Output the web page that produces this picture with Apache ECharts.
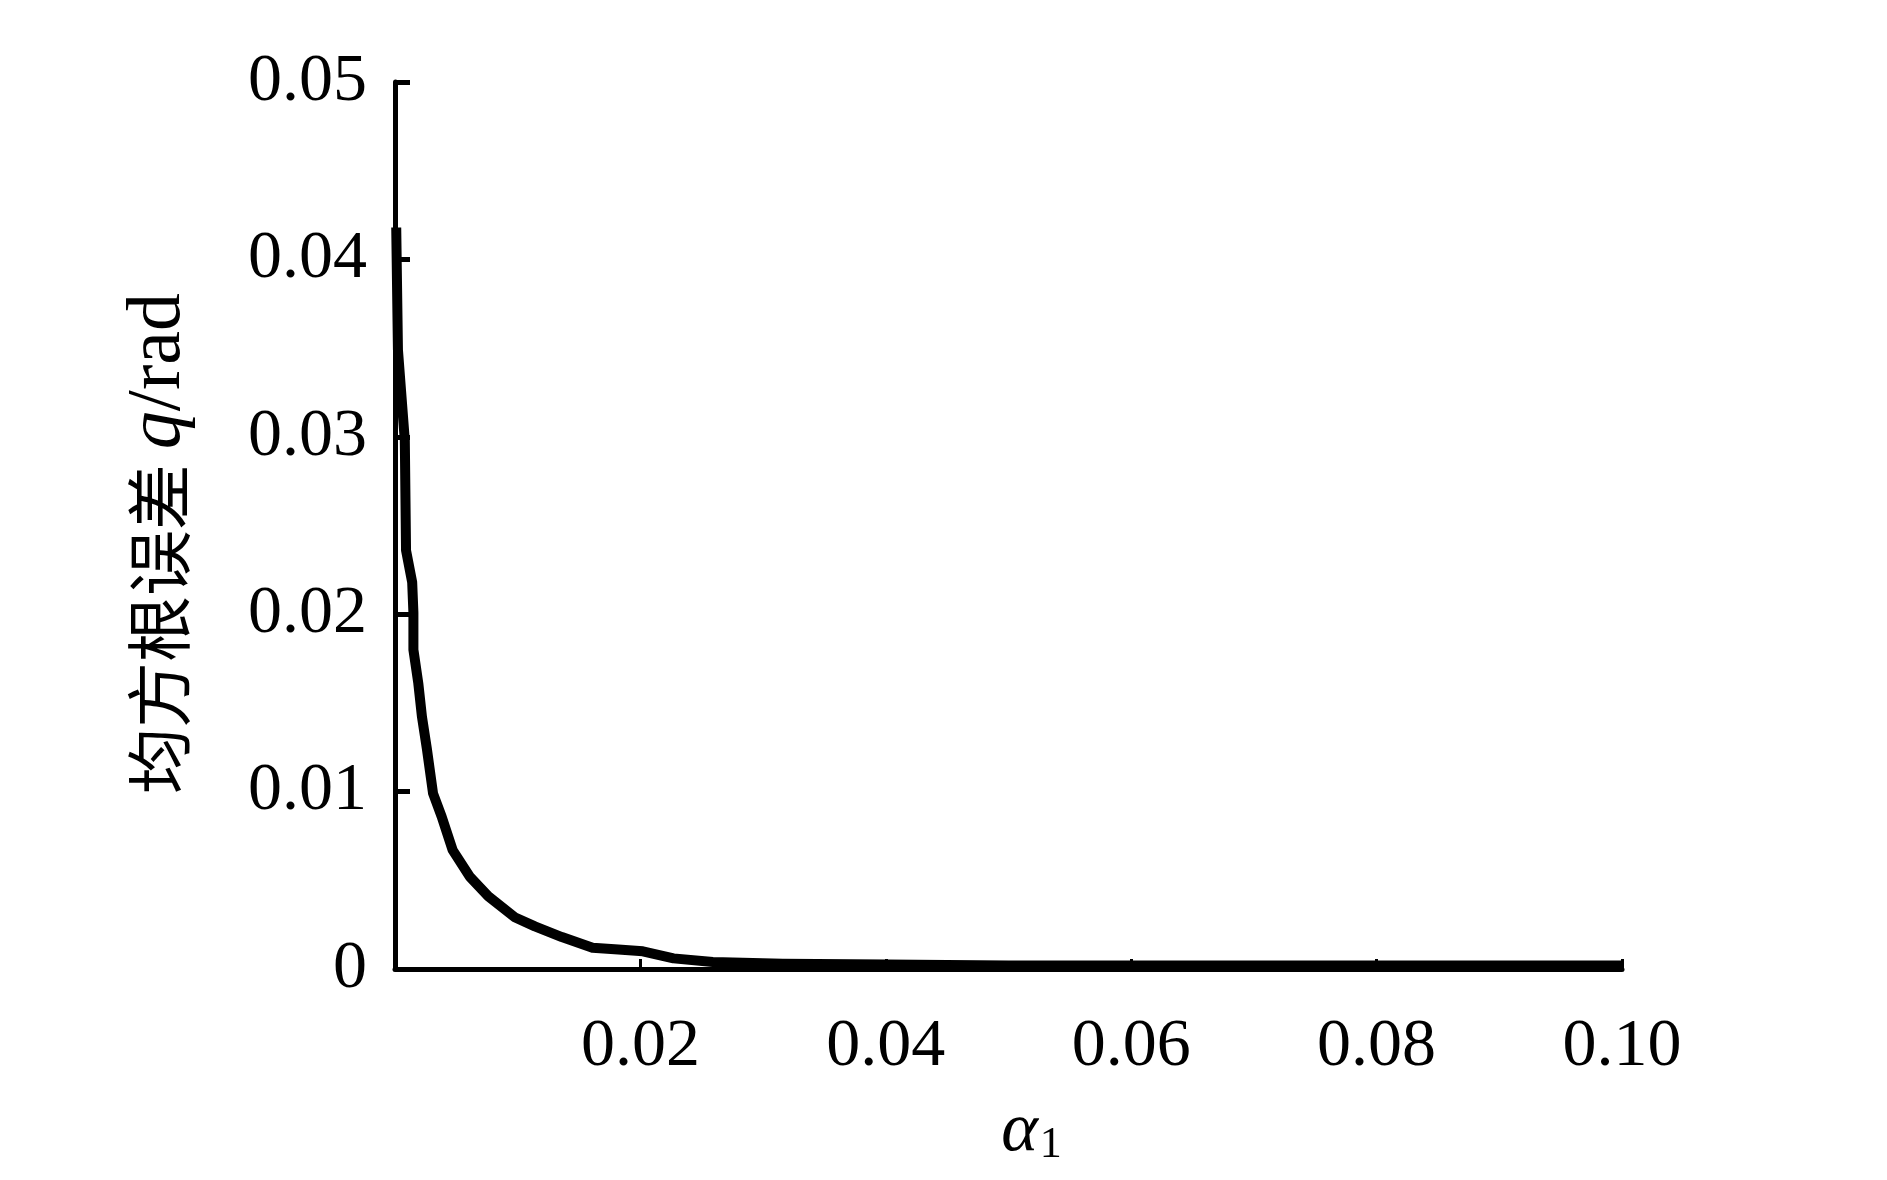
<!DOCTYPE html>
<html lang="zh">
<head>
    <meta charset="UTF-8">
    <title>均方根误差</title>
    <style>
        html, body { margin: 0; padding: 0; background: #fff; }
    </style>
</head>
<body>
<div id="chartBox" style="width: 1887px;height: 1180px;"></div>
<script type="text/javascript" src="https://cdn.jsdelivr.net/npm/echarts@6/dist/echarts.min.js"></script>
<script type="text/javascript">
    // 读图得到的数据
    var alphaValues = [0.0001, 0.00024, 0.0008, 0.0009, 0.0014, 0.0015, 0.0015, 0.0019, 0.0022, 0.0026,
        0.0031, 0.0038, 0.0047, 0.0061, 0.0076, 0.0098, 0.0114, 0.0136, 0.0161, 0.0182,
        0.0202, 0.0227, 0.0259, 0.0316, 0.040, 0.050, 0.060, 0.080, 0.100];
    var rmseValues = [0.0418, 0.0349, 0.0298, 0.0236, 0.0218, 0.0201, 0.0180, 0.0161, 0.0142, 0.0124,
        0.0099, 0.0086, 0.0067, 0.0052, 0.0041, 0.0029, 0.0024, 0.0018, 0.0012, 0.0011,
        0.0010, 0.0006, 0.0004, 0.0003, 0.00025, 0.0002, 0.0002, 0.0002, 0.0002];
    var xTicks = [0, 0.02, 0.04, 0.06, 0.08, 0.10];
    var yTicks = [0, 0.01, 0.02, 0.03, 0.04, 0.05];

    var points = alphaValues.map(function (a, i) { return [a, rmseValues[i]]; });

    var serif = '"Liberation Serif", "Times New Roman", serif';
    var myChart = echarts.init(document.getElementById("chartBox"));

    myChart.setOption({
        backgroundColor: '#fff',
        animation: false,
        grid: { left: 395, top: 82, right: 265, bottom: 211 },
        xAxis: {
            type: 'value',
            min: xTicks[0],
            max: xTicks[xTicks.length - 1],
            interval: 0.02,
            name: '{a|α}{s|1}',
            nameLocation: 'middle',
            nameGap: 118,
            nameTextStyle: {
                padding: [0, 0, 0, 46],
                rich: {
                    a: { fontFamily: serif, fontStyle: 'italic', fontSize: 70, color: '#000', verticalAlign: 'bottom' },
                    s: { fontFamily: serif, fontSize: 44, color: '#000', padding: [36, 0, 0, 2], verticalAlign: 'bottom' }
                }
            },
            axisLine: { lineStyle: { color: '#000', width: 5 } },
            axisTick: { inside: true, length: 10, lineStyle: { color: '#000', width: 3 } },
            axisLabel: {
                showMinLabel: false,
                margin: 44,
                lineHeight: 68,
                fontFamily: serif,
                fontSize: 68,
                color: '#000',
                formatter: function (v) { return v.toFixed(2); }
            },
            splitLine: { show: false }
        },
        yAxis: {
            type: 'value',
            min: yTicks[0],
            max: yTicks[yTicks.length - 1],
            interval: 0.01,
            name: '均方根误差 {q|q}{r|/rad}',
            nameLocation: 'middle',
            nameRotate: 90,
            nameGap: 198,
            nameTextStyle: {
                fontFamily: '"Noto Sans CJK SC", sans-serif',
                fontSize: 66,
                color: '#000',
                padding: [0, 36, 0, 0],
                rich: {
                    q: { fontFamily: serif, fontStyle: 'italic', fontSize: 76, color: '#000' },
                    r: { fontFamily: serif, fontSize: 76, color: '#000' }
                }
            },
            axisLine: { show: true, lineStyle: { color: '#000', width: 5 } },
            axisTick: { show: true, inside: true, length: 15, lineStyle: { color: '#000', width: 5 } },
            axisLabel: {
                margin: 28,
                fontFamily: serif,
                fontSize: 68,
                color: '#000',
                formatter: function (v) { return v === 0 ? '0' : v.toFixed(2); }
            },
            splitLine: { show: false }
        },
        series: [{
            type: 'line',
            data: points,
            showSymbol: false,
            lineStyle: { color: '#000', width: 10, join: 'round' },
            z: 1
        }]
    });
</script>
</body>
</html>
